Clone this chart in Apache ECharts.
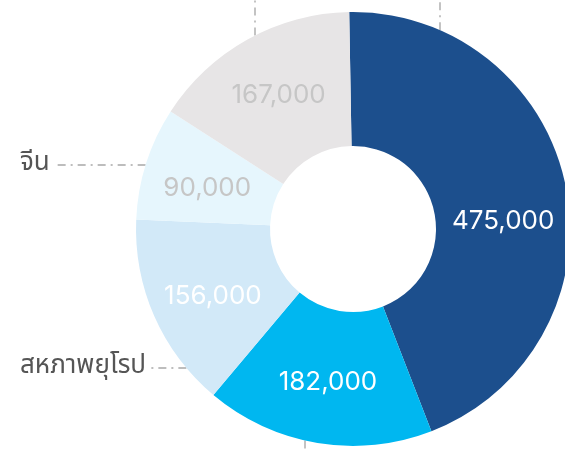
<!DOCTYPE html>
<html>
<head>
<meta charset="utf-8">
<script src="https://cdn.jsdelivr.net/npm/echarts@6/dist/echarts.min.js"></script>
<style>
  html, body { margin: 0; padding: 0; background: #ffffff; }
  #donut { width: 565px; height: 450px; }
</style>
</head>
<body>
<div id="donut"></div>
<script>
// data
const categories = ['สหรัฐอเมริกา', 'ญี่ปุ่น', 'สหภาพยุโรป', 'จีน', 'อื่นๆ'];
const values = [475000, 182000, 156000, 90000, 167000];

// layout / style
const CX = 353, CY = 229, R_IN = 83, R_OUT = 217;
const sliceColors = ['#1c4f8d', '#00b7f0', '#d2e9f8', '#e6f6fd', '#e7e5e6'];
const valueColors = ['#ffffff', '#ffffff', '#ffffff', '#c6c6c6', '#c6c6c6'];
// vertical nudge of the value labels
const valueDy = [22, 2, 6, 6, 0];
// where each leader line leaves the ring: y for left labels, x for top / bottom ones
const leaders = [
  { side: 'top', at: 440 },
  { side: 'bottom', at: 305 },
  { side: 'left', at: 368 },
  { side: 'left', at: 165 },
  { side: 'top', at: 255 }
];

function leaderLayout (params) {
  const lead = leaders[params.dataIndex];
  if (lead.side === 'left') {
    const y = lead.at;
    const xArc = CX - Math.sqrt(R_OUT * R_OUT - (y - CY) * (y - CY));
    const xEnd = 20 + params.labelRect.width + 5;
    return {
      x: 20,
      y: y,
      align: 'left',
      verticalAlign: 'middle',
      labelLinePoints: [[xArc, y], [xEnd, y], [xEnd, y]]
    };
  }
  const x = lead.at;
  const dy = Math.sqrt(R_OUT * R_OUT - (x - CX) * (x - CX));
  const yArc = lead.side === 'top' ? CY - dy : CY + dy;
  const yOut = lead.side === 'top' ? -20 : 470;
  return { x: x, y: yOut, labelLinePoints: [[x, yArc], [x, yOut], [x, yOut]] };
}

const chart = echarts.init(document.getElementById('donut'));
chart.setOption({
  animation: false,
  series: [
    {
      // names + leader lines, drawn under the ring
      type: 'pie',
      z: 1,
      silent: true,
      center: [CX, CY],
      radius: [R_IN, R_OUT],
      startAngle: 91,
      avoidLabelOverlap: false,
      itemStyle: { color: 'rgba(0,0,0,0)' },
      label: {
        show: true,
        position: 'outside',
        formatter: (p) => leaders[p.dataIndex].side === 'left' ? p.name : '',
        color: '#555555',
        fontSize: 26,
        fontFamily: "'Noto Sans Thai', 'Noto Sans', sans-serif"
      },
      labelLine: {
        show: true,
        length: 0,
        length2: 10,
        lineStyle: { color: '#bdbdbd', width: 1.8, type: [8, 5, 2, 5] }
      },
      labelLayout: leaderLayout,
      data: categories.map((name, i) => ({ name: name, value: values[i] }))
    },
    {
      type: 'pie',
      z: 2,
      silent: true,
      center: [CX, CY],
      radius: [R_IN, R_OUT],
      startAngle: 91,
      label: {
        show: true,
        position: 'inside',
        fontSize: 26,
        fontFamily: 'Inter, Roboto, sans-serif',
        formatter: (p) => p.value.toLocaleString('en-US')
      },
      labelLine: { show: false },
      labelLayout: (p) => ({ dy: valueDy[p.dataIndex] }),
      data: categories.map((name, i) => ({
        name: name,
        value: values[i],
        itemStyle: { color: sliceColors[i] },
        label: { color: valueColors[i] }
      }))
    }
  ]
});
</script>
</body>
</html>
